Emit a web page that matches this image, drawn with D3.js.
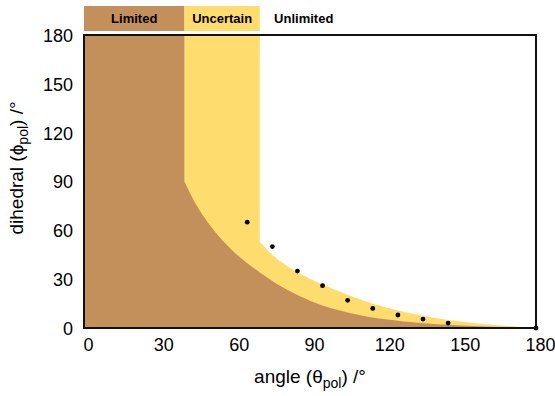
<!DOCTYPE html>
<html>
<head>
<meta charset="utf-8">
<script src="https://cdn.jsdelivr.net/npm/d3@7"></script>
<style>
  html, body { margin: 0; padding: 0; background: #fff; }
  svg { display: block; }
  text { font-family: "Liberation Sans", Arial, Helvetica, sans-serif; fill: #000; }
</style>
</head>
<body>
<svg id="chart" width="555" height="396"></svg>
<script>
// ---- data ----
const xTicks = [0, 30, 60, 90, 120, 150, 180];
const yTicks = [0, 30, 60, 90, 120, 150, 180];

// Limited region: full height for angle < 40, then under this boundary
const limitedEdge = 40;
const limitedTheta = [40, 45, 50, 55, 60, 65, 70, 75, 80, 90, 100, 110, 120, 135, 150, 165, 180];
const limitedPhi   = [90, 75, 63.5, 54, 46.3, 39.8, 34.1, 28.9, 24.3, 16.8, 11.5, 7.8, 5.3, 2.9, 1.5, 0.6, 0];

// Uncertain region: full height for 40 <= angle < 70, then under this boundary
const uncertainEdge = 70;
const uncertainTheta = [70, 75, 80, 85, 90, 100, 110, 120, 130, 140, 150, 160, 170, 180];
const uncertainPhi   = [53, 45, 39, 34.3, 30.3, 23.5, 17.5, 12.7, 9, 6.2, 4, 2.3, 1.1, 0];

// Black points
const pointTheta = [65, 75, 85, 95, 105, 115, 125, 135, 145, 180];
const pointPhi   = [65, 50, 35, 26, 17, 12, 8, 5.5, 3, 0];

const legendLabels = ["Limited", "Uncertain", "Unlimited"];

// ---- drawing ----
const colBrown = "#C38F5B";
const colYellow = "#FEDC6D";

const svg = d3.select("#chart");
const x = d3.scaleLinear().domain([0, 180]).range([84, 536]);
const y = d3.scaleLinear().domain([0, 180]).range([328, 35]);

const curveLine = d3.line().x(d => x(d[0])).y(d => y(d[1])).curve(d3.curveCatmullRom.alpha(0.5));

// region = full-height block from x0 to edge, then under the boundary curve
function regionPath(x0, edge, thetas, phis) {
  const pts = thetas.map((t, i) => [t, phis[i]]);
  const c = curveLine(pts).replace(/^M/, "L");
  return `M${x(x0)},${y(0)}L${x(x0)},${y(180)}L${x(edge)},${y(180)}` + c + `L${x(180)},${y(0)}Z`;
}

svg.append("path")
  .attr("fill", colYellow)
  .attr("d", regionPath(limitedEdge, uncertainEdge, uncertainTheta, uncertainPhi));

svg.append("path")
  .attr("fill", colBrown)
  .attr("d", regionPath(0, limitedEdge, limitedTheta, limitedPhi));

// Points
svg.selectAll("circle.pt")
  .data(pointTheta.map((t, i) => [t, pointPhi[i]]))
  .join("circle")
  .attr("class", "pt")
  .attr("cx", d => x(d[0])).attr("cy", d => y(d[1]))
  .attr("r", 2.4).attr("fill", "#000");

// Frame
svg.append("rect")
  .attr("x", x(0)).attr("y", y(180))
  .attr("width", x(180) - x(0)).attr("height", y(0) - y(180))
  .attr("fill", "none").attr("stroke", "#111").attr("stroke-width", 2);

// Axes (labels only, no tick marks)
const xAxis = svg.append("g").attr("transform", `translate(4,${y(0)})`)
  .call(d3.axisBottom(x).tickValues(xTicks).tickSize(0).tickPadding(10).tickFormat(d3.format("d")));
xAxis.select(".domain").remove();
xAxis.selectAll("text").style("font-size", "18px").attr("dy", "0.71em");

const yAxis = svg.append("g").attr("transform", `translate(${x(0)},0)`)
  .call(d3.axisLeft(y).tickValues(yTicks).tickSize(0).tickPadding(11).tickFormat(d3.format("d")));
yAxis.select(".domain").remove();
yAxis.selectAll("text").style("font-size", "18px").attr("dy", "0.36em");

// Axis titles
const xt = svg.append("text").attr("x", (x(0) + x(180)) / 2).attr("y", 383)
  .attr("text-anchor", "middle").style("font-size", "19px");
xt.append("tspan").text("angle (θ");
xt.append("tspan").attr("dy", 5).style("font-size", "14px").text("pol");
xt.append("tspan").attr("dy", -5).text(") /°");

const yt = svg.append("text").attr("transform", "translate(23,168) rotate(-90)")
  .attr("text-anchor", "middle").style("font-size", "19px");
yt.append("tspan").text("dihedral (ϕ");
yt.append("tspan").attr("dy", 5).style("font-size", "14px").text("pol");
yt.append("tspan").attr("dy", -5).text(") /°");

// Legend header
const legBoxes = [
  { x0: 0, x1: limitedEdge, fill: colBrown, label: legendLabels[0] },
  { x0: limitedEdge, x1: uncertainEdge, fill: colYellow, label: legendLabels[1] },
  { x0: uncertainEdge, x1: 105, fill: "none", label: legendLabels[2] }
];
const lg = svg.append("g");
lg.selectAll("rect").data(legBoxes).join("rect")
  .attr("x", d => x(d.x0)).attr("y", 6)
  .attr("width", d => x(d.x1) - x(d.x0)).attr("height", 25)
  .attr("fill", d => d.fill);
lg.selectAll("text").data(legBoxes).join("text")
  .attr("x", d => (x(d.x0) + x(d.x1)) / 2).attr("y", 23)
  .attr("text-anchor", "middle")
  .style("font-size", "13px").style("font-weight", "bold")
  .text(d => d.label);
</script>
</body>
</html>
